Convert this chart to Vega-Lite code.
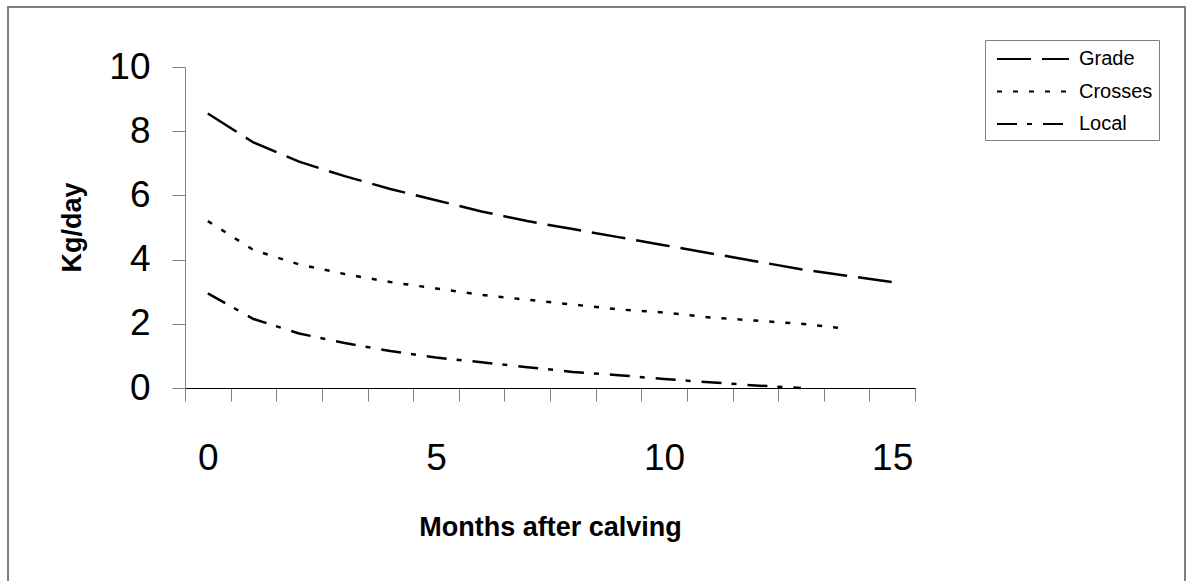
{
  "$schema": "https://vega.github.io/schema/vega-lite/v6.json",
  "width": 730,
  "height": 321,
  "autosize": {"type": "none"},
  "padding": {"left": 185, "top": 67, "right": 271, "bottom": 193},
  "background": "white",
  "config": {"view": {"stroke": null}, "font": "Liberation Sans"},
  "layer": [
    {
      "data": {"values": [{"frame": 1}]},
      "mark": {"type": "rect", "fill": null, "stroke": "#808080", "strokeWidth": 2, "clip": false},
      "encoding": {
        "x": {"datum": -4.379, "type": "quantitative"},
        "x2": {"datum": 21.418},
        "y": {"datum": 11.869, "type": "quantitative"},
        "y2": {"datum": -6.5}
      }
    },
    {
      "data": {
        "values": [
          {"month": 0, "kg": 8.55, "breed": "Grade"},
          {"month": 1, "kg": 7.65, "breed": "Grade"},
          {"month": 2, "kg": 7.05, "breed": "Grade"},
          {"month": 3, "kg": 6.6, "breed": "Grade"},
          {"month": 4, "kg": 6.2, "breed": "Grade"},
          {"month": 5, "kg": 5.85, "breed": "Grade"},
          {"month": 6, "kg": 5.5, "breed": "Grade"},
          {"month": 7, "kg": 5.2, "breed": "Grade"},
          {"month": 8, "kg": 4.95, "breed": "Grade"},
          {"month": 9, "kg": 4.7, "breed": "Grade"},
          {"month": 10, "kg": 4.45, "breed": "Grade"},
          {"month": 11, "kg": 4.2, "breed": "Grade"},
          {"month": 12, "kg": 3.95, "breed": "Grade"},
          {"month": 13, "kg": 3.7, "breed": "Grade"},
          {"month": 14, "kg": 3.5, "breed": "Grade"},
          {"month": 15, "kg": 3.3, "breed": "Grade"},
          {"month": 0, "kg": 5.2, "breed": "Crosses"},
          {"month": 1, "kg": 4.3, "breed": "Crosses"},
          {"month": 2, "kg": 3.85, "breed": "Crosses"},
          {"month": 3, "kg": 3.55, "breed": "Crosses"},
          {"month": 4, "kg": 3.3, "breed": "Crosses"},
          {"month": 5, "kg": 3.1, "breed": "Crosses"},
          {"month": 6, "kg": 2.9, "breed": "Crosses"},
          {"month": 7, "kg": 2.75, "breed": "Crosses"},
          {"month": 8, "kg": 2.6, "breed": "Crosses"},
          {"month": 9, "kg": 2.45, "breed": "Crosses"},
          {"month": 10, "kg": 2.35, "breed": "Crosses"},
          {"month": 11, "kg": 2.2, "breed": "Crosses"},
          {"month": 12, "kg": 2.1, "breed": "Crosses"},
          {"month": 13, "kg": 2.0, "breed": "Crosses"},
          {"month": 14, "kg": 1.85, "breed": "Crosses"},
          {"month": 0, "kg": 2.95, "breed": "Local"},
          {"month": 1, "kg": 2.15, "breed": "Local"},
          {"month": 2, "kg": 1.7, "breed": "Local"},
          {"month": 3, "kg": 1.4, "breed": "Local"},
          {"month": 4, "kg": 1.15, "breed": "Local"},
          {"month": 5, "kg": 0.95, "breed": "Local"},
          {"month": 6, "kg": 0.8, "breed": "Local"},
          {"month": 7, "kg": 0.65, "breed": "Local"},
          {"month": 8, "kg": 0.5, "breed": "Local"},
          {"month": 9, "kg": 0.4, "breed": "Local"},
          {"month": 10, "kg": 0.28, "breed": "Local"},
          {"month": 11, "kg": 0.18, "breed": "Local"},
          {"month": 12, "kg": 0.08, "breed": "Local"},
          {"month": 13, "kg": 0.0, "breed": "Local"}
        ]
      },
      "mark": {"type": "line", "color": "black", "strokeWidth": 2.5, "clip": false},
      "encoding": {
        "x": {
          "field": "month",
          "type": "quantitative",
          "scale": {"domain": [-0.5, 15.5], "nice": false, "zero": false},
          "axis": {
            "values": [-0.5, 0.5, 1.5, 2.5, 3.5, 4.5, 5.5, 6.5, 7.5, 8.5, 9.5, 10.5, 11.5, 12.5, 13.5, 14.5, 15.5],
            "labelExpr": "datum.value == -0.5 ? '0' : datum.value == 4.5 ? '5' : datum.value == 9.5 ? '10' : datum.value == 14.5 ? '15' : ''",
            "labelOffset": 22.8,
            "labelFontSize": 37,
            "labelPadding": 39,
            "labelColor": "black",
            "labelOverlap": false,
            "labelFlush": false,
            "tickSize": 13,
            "tickColor": "#808080",
            "domainColor": "black",
            "grid": false,
            "title": "Months after calving",
            "titleFontSize": 27,
            "titleFontWeight": "bold",
            "titleColor": "black",
            "titleX": 365,
            "titleY": 147,
            "titleBaseline": "alphabetic",
            "titleAlign": "center"
          }
        },
        "y": {
          "field": "kg",
          "type": "quantitative",
          "scale": {"domain": [0, 10], "nice": false},
          "axis": {
            "values": [0, 2, 4, 6, 8, 10],
            "labelFontSize": 37,
            "labelPadding": 22,
            "labelColor": "black",
            "tickSize": 13,
            "tickColor": "#808080",
            "domainColor": "#808080",
            "grid": false,
            "title": "Kg/day",
            "titleFontSize": 27,
            "titleFontWeight": "bold",
            "titleColor": "black",
            "titleX": -113,
            "titleY": 160,
            "titleAngle": -90,
            "titleAlign": "center",
            "titleBaseline": "middle"
          }
        },
        "strokeDash": {
          "field": "breed",
          "type": "nominal",
          "scale": {"domain": ["Grade", "Crosses", "Local"], "range": [[34, 11], [5, 11], [20, 10, 5, 11]]},
          "legend": {
            "orient": "none",
            "legendX": 800,
            "legendY": -27,
            "title": null,
            "symbolType": "M-0.583,0H5.417",
            "symbolSize": 576,
            "symbolStrokeWidth": 2,
            "symbolStrokeColor": "black",
            "labelFontSize": 20,
            "labelColor": "black",
            "labelOffset": 62,
            "rowPadding": 9.5,
            "padding": 6,
            "strokeColor": "#808080",
            "fillColor": "white"
          }
        }
      }
    }
  ]
}
